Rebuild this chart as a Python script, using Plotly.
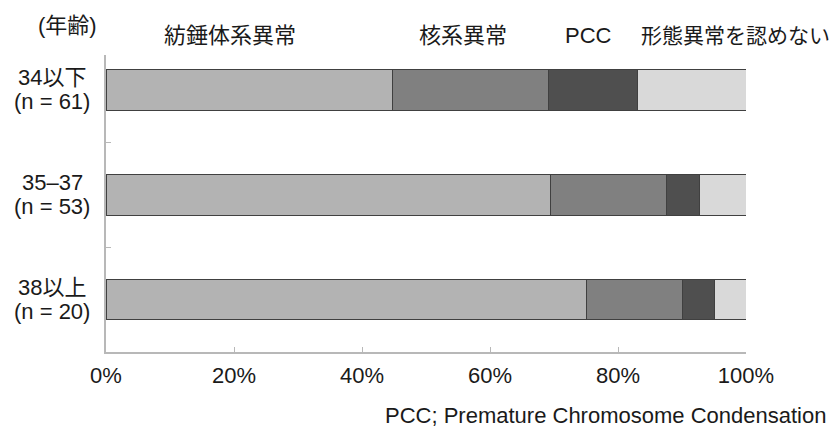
import plotly.graph_objects as go

# Age groups (top to bottom) and their sample sizes
age_groups = ["34以下", "35–37", "38以上"]
sample_sizes = [61, 53, 20]

# Share of each morphology category per age group (%)
series_names = ["紡錘体系異常", "核系異常", "PCC", "形態異常を認めない"]
spindle = [44.7, 69.5, 75.0]
nuclear = [24.4, 18.0, 15.0]
pcc = [14.0, 5.3, 5.0]
normal = [16.9, 7.2, 5.0]
series_values = [spindle, nuclear, pcc, normal]

x_ticks = [0, 20, 40, 60, 80, 100]
x_tick_text = [f"{v}%" for v in x_ticks]

fills = ["#b3b3b3", "#808080", "#4f4f4f", "#d9d9d9"]
edge = "#404040"
font_family = "Liberation Sans, Arial, Noto Sans CJK JP, sans-serif"
FS = 22

# plot area in pixels
L, R, T, B = 106, 746, 55, 352
W, H = 832, 427


def px_x(p):
    return (p - L) / (R - L)


def px_y(p):
    return (B - p) / (B - T)


fig = go.Figure()
for name, vals, col in zip(series_names, series_values, fills):
    fig.add_trace(go.Bar(
        y=age_groups, x=vals, name=name, orientation="h",
        marker=dict(color=col, line=dict(color=edge, width=1)),
        width=0.39,
    ))

text_font = dict(size=FS, color="#1a1a1a", family=font_family)
annotations = []
# series labels across the top (the last one slightly smaller so it fits)
legend_left_px = [162, 417, 563, 639]
legend_sizes = [FS, FS, FS, 21]
for name, lx, fs in zip(series_names, legend_left_px, legend_sizes):
    annotations.append(dict(
        text=name, xref="paper", yref="paper", x=px_x(lx), y=px_y(36),
        xanchor="left", yanchor="middle", showarrow=False,
        font=dict(text_font, size=fs),
    ))
# axis caption
annotations.append(dict(
    text="(年齢)", xref="paper", yref="paper", x=px_x(67), y=px_y(25),
    xanchor="center", yanchor="middle", showarrow=False, font=text_font,
))
# centred two-line category labels
for g, n in zip(age_groups, sample_sizes):
    for line, shift in ((g, 12), (f"(n = {n})", -12)):
        annotations.append(dict(
            text=line, xref="paper", yref="y", x=px_x(52), y=g, yshift=shift,
            xanchor="center", yanchor="middle", showarrow=False, font=text_font,
        ))
# footnote
annotations.append(dict(
    text="PCC; Premature Chromosome Condensation", xref="paper", yref="paper",
    x=px_x(828), y=px_y(415), xanchor="right", yanchor="middle",
    showarrow=False, font=text_font,
))

n_cat = len(age_groups)

fig.update_layout(
    barmode="stack",
    width=W, height=H,
    margin=dict(l=L, r=W - R, t=T, b=H - B, pad=0),
    paper_bgcolor="white", plot_bgcolor="white",
    showlegend=False,
    font=dict(family=font_family, size=FS, color="#1a1a1a"),
    annotations=annotations,
    xaxis=dict(
        range=[0, 100], tickvals=x_ticks, ticktext=x_tick_text,
        showgrid=False, zeroline=False,
        showline=True, linecolor="#b8b8b8", linewidth=2,
        ticks="inside", ticklen=5, tickcolor="#b8b8b8", tickwidth=1,
        ticklabelstandoff=3,
        tickfont=dict(size=FS, color="#1a1a1a"),
    ),
    yaxis=dict(
        type="category", categoryorder="array", categoryarray=age_groups,
        range=[n_cat - 0.5, -0.33],
        showticklabels=False, showgrid=False, zeroline=False,
        showline=True, linecolor="#b8b8b8", linewidth=2,
        ticks="inside", ticklen=5, tickcolor="#b8b8b8", tickwidth=1,
        tickson="boundaries",
    ),
)

fig.write_html("out.html")
